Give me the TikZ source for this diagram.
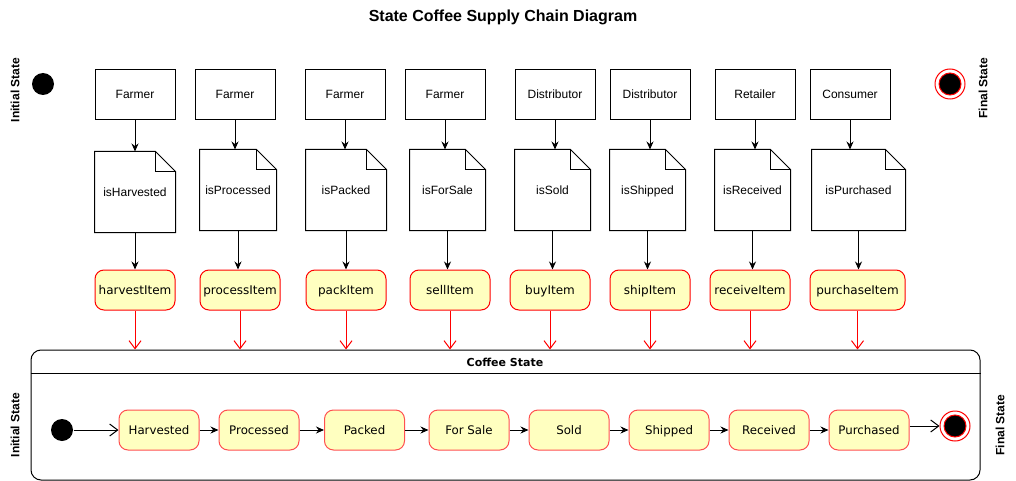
\documentclass[tikz,border=0pt]{standalone}
\usepackage{fontspec}
\setmainfont{Liberation Sans}
\newfontfamily\dvsans{DejaVu Sans}
\usetikzlibrary{arrows.meta}
\definecolor{stfill}{HTML}{FFFFC0}
\definecolor{stline}{HTML}{FF5050}
\begin{document}
\begin{tikzpicture}[x=1pt,y=-1pt,line width=1pt,
  fixtext/.style={text height=9pt, text depth=1pt},
  actor/.style={draw, minimum width=80pt, minimum height=50pt, inner sep=0pt, fixtext, font=\fontsize{12}{14}\selectfont},
  docbox/.style={minimum height=80pt, inner sep=0pt, fixtext, font=\fontsize{12}{14}\selectfont},
  action/.style={draw=red, fill=stfill, rounded corners=9pt, minimum height=40pt, minimum width=80pt, inner sep=0pt, fixtext, font=\dvsans\fontsize{12}{14}\selectfont},
  cstate/.style={draw=stline, fill=stfill, rounded corners=9pt, minimum height=40pt, minimum width=80pt, inner sep=0pt, fixtext, font=\dvsans\fontsize{11.8}{14}\selectfont},
  sidelabel/.style={rotate=90, font=\bfseries\fontsize{12}{14}\selectfont},
  flow/.style={-{Stealth[length=8pt,width=7pt]}},
  redflow/.style={red, -{Straight Barb[length=8pt,width=12pt]}},
  openflow/.style={-{Straight Barb[length=8pt,width=12pt]}},
  startdot/.style={circle, fill=black, minimum size=22pt, inner sep=0pt},
  enddot/.style={circle, draw=red, fill=white, minimum size=30pt, inner sep=0pt},
]
\useasboundingbox (0,0) rectangle (1016,481);

% title
\node[anchor=base, font=\bfseries\fontsize{16}{19}\selectfont] (title) at (503,22) {State Coffee Supply Chain Diagram};

% top initial / final
\node[sidelabel] (lblinit) at (15,90) {Initial State};
\node[startdot] (ini1) at (43,84) {};
\node[sidelabel] (lblfin) at (983,88) {Final State};
\node[enddot] (fin1) at (950,84) {};
\filldraw[fill=black, draw=red] (fin1.center) circle (11pt);

% actors
\node[actor] (f1) at (135,95) {Farmer};
\node[actor] (f2) at (235,95) {Farmer};
\node[actor] (f3) at (345,95) {Farmer};
\node[actor] (f4) at (445,95) {Farmer};
\node[actor] (f5) at (555,95) {Distributor};
\node[actor] (f6) at (650,95) {Distributor};
\node[actor] (f7) at (755,95) {Retailer};
\node[actor] (f8) at (850,95) {Consumer};

% documents
\node[docbox, minimum width=80pt] (d1) at (135,192) {isHarvested};
\node[docbox, minimum width=76pt] (d2) at (238,190) {isProcessed};
\node[docbox, minimum width=80pt] (d3) at (346,190) {isPacked};
\node[docbox, minimum width=75pt] (d4) at (447.5,190) {isForSale};
\node[docbox, minimum width=75pt] (d5) at (552.5,190) {isSold};
\node[docbox, minimum width=75pt] (d6) at (647.5,190) {isShipped};
\node[docbox, minimum width=75pt] (d7) at (752.5,190) {isReceived};
\node[docbox, minimum width=93pt] (d8) at (858.5,190) {isPurchased};
\foreach \n in {d1,d2,d3,d4,d5,d6,d7,d8}{
  \draw ([xshift=-20pt]\n.north east) -- (\n.north west) -- (\n.south west) -- (\n.south east) -- ([yshift=-20pt]\n.north east) -- cycle;
  \draw ([xshift=-20pt]\n.north east) |- ([yshift=-20pt]\n.north east);
}

% actions
\node[action] (a1) at (135,290) {harvestItem};
\node[action] (a2) at (240,290) {processItem};
\node[action] (a3) at (346,290) {packItem};
\node[action] (a4) at (450,290) {sellItem};
\node[action] (a5) at (550,290) {buyItem};
\node[action] (a6) at (650,290) {shipItem};
\node[action] (a7) at (750,290) {receiveItem};
\node[action, minimum width=95pt] (a8) at (857.5,290) {purchaseItem};

% container
\node[draw, rounded corners=10pt, minimum width=949pt, minimum height=130pt, inner sep=0pt] (cont) at (505.5,415) {};
\coordinate (hdr) at (0,373);
\draw (cont.west |- hdr) -- (cont.east |- hdr);
\node[font=\dvsans\bfseries\fontsize{11}{13}\selectfont] (cstitle) at (505,362) {Coffee State};

% connectors top
\foreach \i in {1,...,8}{
  \draw[flow] (f\i.south) -- (f\i.south |- d\i.north);
  \draw[flow] (d\i.south) -- (d\i.south |- a\i.north);
  \draw[redflow] (a\i.south) -- (a\i.south |- cont.north);
}

% inner states
\node[sidelabel] (lblinit2) at (15,425) {Initial State};
\node[sidelabel] (lblfin2) at (1000,425) {Final State};
\node[startdot] (ini2) at (62,430) {};
\node[cstate] (s1) at (159,430) {Harvested};
\node[cstate] (s2) at (259,430) {Processed};
\node[cstate] (s3) at (364.5,430) {Packed};
\node[cstate] (s4) at (469,430) {For Sale};
\node[cstate] (s5) at (569,430) {Sold};
\node[cstate] (s6) at (669,430) {Shipped};
\node[cstate] (s7) at (769,430) {Received};
\node[cstate] (s8) at (869,430) {Purchased};
\node[enddot] (fin2) at (955,426) {};
\filldraw[fill=black, draw=red] (fin2.center) circle (11pt);

\draw[openflow] (ini2) -- (s1);
\foreach \i/\j in {1/2,2/3,3/4,4/5,5/6,6/7,7/8}{
  \draw[flow] (s\i) -- (s\j);
}
\draw[openflow] (s8.east |- fin2) -- (fin2);
\end{tikzpicture}
\end{document}
